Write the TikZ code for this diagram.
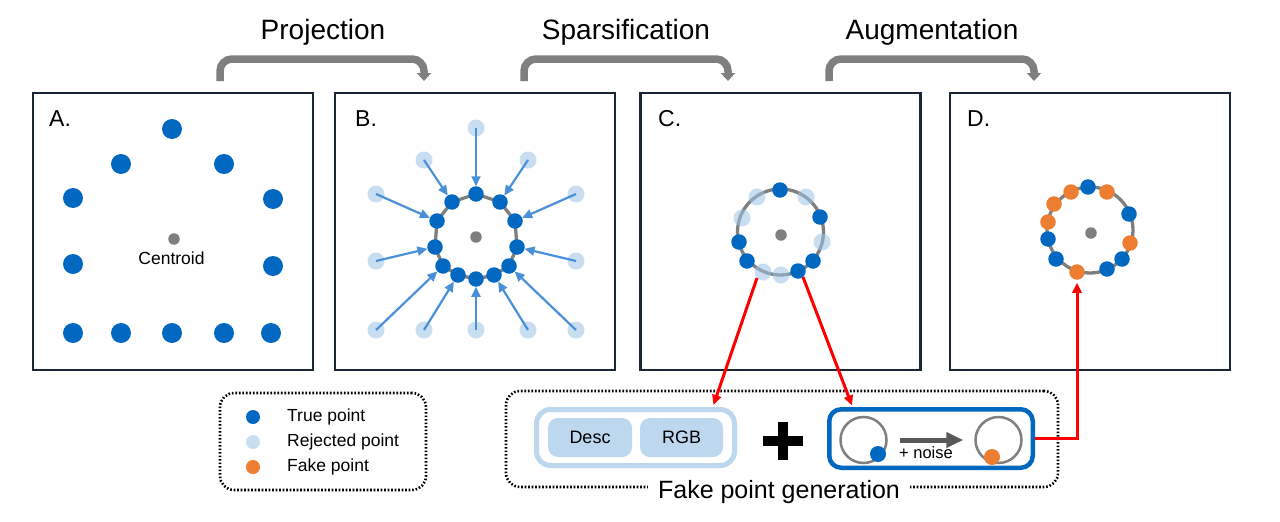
\documentclass[tikz,border=0pt]{standalone}
\usepackage{fontspec}
\setmainfont{Liberation Sans}
\usetikzlibrary{arrows.meta}
\definecolor{tblue}{HTML}{0068C0}
\definecolor{lblue}{HTML}{BDD7EE}
\definecolor{rejc}{HTML}{9DC3E6}
\definecolor{aorange}{HTML}{ED7D31}
\definecolor{ringgray}{HTML}{7F7F7F}
\definecolor{navy}{HTML}{1B2538}
\definecolor{arrblue}{HTML}{4A90D9}
\definecolor{darkarrow}{HTML}{595959}
\begin{document}
\begin{tikzpicture}[x=1pt,y=-1pt,
 panel/.style={draw=navy,line width=2.5pt,minimum width=280pt,minimum height=277pt,inner sep=0pt,outer sep=0pt},
 bigdot/.style={circle,fill=tblue,minimum size=20pt,inner sep=0pt,outer sep=0pt},
 tdot/.style={circle,fill=tblue,minimum size=15.5pt,inner sep=0pt,outer sep=0pt},
 fdot/.style={circle,fill=aorange,minimum size=15.5pt,inner sep=0pt,outer sep=0pt},
 rdot/.style={circle,fill=rejc,fill opacity=0.55,minimum size=17pt,inner sep=0pt,outer sep=0pt},
 cdot/.style={circle,fill=ringgray,minimum size=11.5pt,inner sep=0pt,outer sep=0pt},
 ringline/.style={draw=ringgray,line width=3.3pt},
 projarrow/.style={draw=arrblue,line width=2.2pt,-{Triangle[length=10pt,width=9pt]}},
 bracket/.style={draw=ringgray,line width=7.5pt,rounded corners=12pt,-{Triangle[length=8pt,width=14pt]}},
 head/.style={font=\fontsize{28}{32}\selectfont,anchor=base,inner sep=0pt},
 plab/.style={font=\fontsize{23}{26}\selectfont,anchor=base west,inner sep=0pt},
 small/.style={font=\fontsize{17.5}{20}\selectfont,inner sep=0pt},
 dotbox/.style={draw=black,line width=2.6pt,dash pattern=on 1.6pt off 1.9pt,rounded corners=14pt,inner sep=0pt},
 redarr/.style={draw=red,line width=3pt,-{Triangle[length=10pt,width=9pt]}},
 inbox/.style={fill=lblue,rounded corners=10pt,minimum width=84pt,minimum height=39pt,inner sep=0pt,font=\fontsize{18}{20}\selectfont}
]
\useasboundingbox[fill=white] (0,0) rectangle (1280,522);

% headings and brackets
\node[head] (h1) at (323,39) {Projection};
\node[head] (h2) at (626,39) {Sparsification};
\node[head] (h3) at (932,39) {Augmentation};
\coordinate (k1a) at (220,81); \coordinate (k1b) at (424,81);
\coordinate (k2a) at (524,81); \coordinate (k2b) at (728,81);
\coordinate (k3a) at (829,81); \coordinate (k3b) at (1034,81);
\draw[bracket] (k1a) -- (220,59) -- (424,59) -- (k1b);
\draw[bracket] (k2a) -- (524,59) -- (728,59) -- (k2b);
\draw[bracket] (k3a) -- (829,59) -- (1034,59) -- (k3b);

% panels
\node[panel] (pA) at (173,231.5) {};
\node[panel] (pB) at (475,231.5) {};
\node[panel] (pC) at (780.5,231.5) {};
\node[panel] (pD) at (1090,231.5) {};
\node[plab] (lA) at (49,126) {A.};
\node[plab] (lB) at (355,126) {B.};
\node[plab] (lC) at (658,126) {C.};
\node[plab] (lD) at (967,126) {D.};

% panel A
\node[bigdot] (a1) at (172,129) {};
\node[bigdot] (a2) at (121,164) {};
\node[bigdot] (a3) at (224,164) {};
\node[bigdot] (a4) at (73,198) {};
\node[bigdot] (a5) at (273,199) {};
\node[bigdot] (a6) at (73,264) {};
\node[bigdot] (a7) at (273,266) {};
\node[bigdot] (a8) at (73,333) {};
\node[bigdot] (a9) at (121,333) {};
\node[bigdot] (a10) at (172,333) {};
\node[bigdot] (a11) at (224,333) {};
\node[bigdot] (a12) at (271,333) {};
\node[cdot] (ac) at (174,239) {};
\node[small,anchor=base] (actext) at (171.5,264) {Centroid};

% panel B
\coordinate (b1) at (476,194);
\coordinate (b2) at (500,202);
\coordinate (b3) at (515,221);
\coordinate (b4) at (517,247);
\coordinate (b5) at (509,266);
\coordinate (b6) at (494,275);
\coordinate (b7) at (476,279);
\coordinate (b8) at (458,275);
\coordinate (b9) at (443,266);
\coordinate (b10) at (435,247);
\coordinate (b11) at (437,221);
\coordinate (b12) at (452,202);
\draw[ringline,line join=round] (b1) -- (b2) -- (b3) -- (b4) -- (b5) -- (b6) -- (b7) -- (b8) -- (b9) -- (b10) -- (b11) -- (b12) -- cycle;
\foreach \i in {1,...,12} { \node[tdot] (B\i) at (b\i) {}; }
\node[cdot] (bc) at (476,237) {};
\node[rdot] (r1) at (476,128) {};
\node[rdot] (r2) at (528,160) {};
\node[rdot] (r3) at (576,194) {};
\node[rdot] (r4) at (576,261) {};
\node[rdot] (r5) at (576,330) {};
\node[rdot] (r6) at (528,330) {};
\node[rdot] (r7) at (476,330) {};
\node[rdot] (r8) at (424,330) {};
\node[rdot] (r9) at (376,330) {};
\node[rdot] (r10) at (376,261) {};
\node[rdot] (r11) at (376,194) {};
\node[rdot] (r12) at (424,160) {};
\draw[projarrow] (r1.center) -- (B1);
\draw[projarrow] (r2.center) -- (B2);
\draw[projarrow] (r3.center) -- (B3);
\draw[projarrow] (r4.center) -- (B4);
\draw[projarrow] (r5.center) -- (B5);
\draw[projarrow] (r6.center) -- (B6);
\draw[projarrow] (r7.center) -- (B7);
\draw[projarrow] (r8.center) -- (B8);
\draw[projarrow] (r9.center) -- (B9);
\draw[projarrow] (r10.center) -- (B10);
\draw[projarrow] (r11.center) -- (B11);
\draw[projarrow] (r12.center) -- (B12);

% panel C
\node[circle,ringline,minimum size=86pt,inner sep=0pt] (cring) at (780.5,232) {};
\node[cdot] (cc) at (781,235) {};
\node[tdot] (c1) at (780,190) {};
\node[tdot] (c2) at (820,217) {};
\node[tdot] (c3) at (739,242) {};
\node[tdot] (c4) at (747,261) {};
\node[tdot] (c5) at (813,261) {};
\node[tdot] (c6) at (798,271) {};
\node[rdot] (cr1) at (757,197) {};
\node[rdot] (cr2) at (806,197) {};
\node[rdot] (cr3) at (742,218) {};
\node[rdot] (cr4) at (822,242) {};
\node[rdot] (cr5) at (763,272) {};
\node[rdot] (cr6) at (781,275) {};
\coordinate (rs1) at (757,278);
\coordinate (rs2) at (803,277);

% panel D
\node[circle,ringline,minimum size=86pt,inner sep=0pt] (dring) at (1090,230) {};
\node[cdot] (dc) at (1091,233) {};
\node[fdot] (d2) at (1071,192) {};
\node[fdot] (d3) at (1107,192) {};
\node[tdot] (d1) at (1088,187) {};
\node[fdot] (d4) at (1054,204) {};
\node[tdot] (d5) at (1129,214) {};
\node[fdot] (d6) at (1048,222) {};
\node[tdot] (d7) at (1048,239) {};
\node[fdot] (d8) at (1130,243) {};
\node[tdot] (d9) at (1056,259) {};
\node[tdot] (d10) at (1122,259) {};
\node[tdot] (d11) at (1107,269) {};
\node[fdot] (dF) at (1077,272) {};

% legend
\node[dotbox,minimum width=206pt,minimum height=97pt] (leg) at (323,441.5) {};
\node[circle,fill=tblue,minimum size=14pt,inner sep=0pt] (lg1) at (253,417) {};
\node[circle,fill=rejc,fill opacity=0.55,minimum size=14pt,inner sep=0pt] (lg2) at (253,442) {};
\node[circle,fill=aorange,minimum size=14pt,inner sep=0pt] (lg3) at (253,467) {};
\node[small,anchor=west] (lt1) at (287,417) {True point};
\node[small,anchor=west] (lt2) at (287,442) {Rejected point};
\node[small,anchor=west] (lt3) at (287,467) {Fake point};

% fake point generation
\node[dotbox,minimum width=552pt,minimum height=96pt] (fk) at (782,439) {};
\node[font=\fontsize{25}{28}\selectfont,fill=white,inner xsep=10pt,inner ysep=2pt,anchor=base] (fktext) at (779,498) {Fake point generation};
\node[draw=lblue,line width=5pt,fill=white,rounded corners=14pt,minimum width=198pt,minimum height=56pt,inner sep=0pt] (dbox) at (635.5,437.5) {};
\node[inbox] (desc) at (590,437.5) {Desc};
\node[inbox,minimum width=83pt] (rgb) at (681.5,437.5) {RGB};
\draw[line width=10pt] (763,441) -- (803,441);
\draw[line width=10pt] (783,422) -- (783,460);
\node[draw=tblue,line width=4.5pt,fill=white,rounded corners=12pt,minimum width=203.5pt,minimum height=58.5pt,inner sep=0pt] (nbox) at (931,438.5) {};
\node[circle,draw=ringgray,line width=2.5pt,minimum size=46pt,inner sep=0pt] (n1) at (863.5,440) {};
\node[circle,draw=ringgray,line width=2.5pt,minimum size=46pt,inner sep=0pt] (n2) at (998.5,440) {};
\node[circle,fill=tblue,minimum size=16pt,inner sep=0pt] (n1d) at (878,454) {};
\node[circle,fill=aorange,minimum size=16pt,inner sep=0pt] (n2d) at (992,457) {};
\draw[draw=darkarrow,line width=5pt,shorten <=12pt,shorten >=11pt,-{Triangle[length=17pt,width=15pt]}] (n1) -- (n2);
\node[font=\fontsize{16.5}{19}\selectfont,inner sep=0pt] (noise) at (926,453) {+ noise};

% red connectors
\draw[redarr] (rs1) -- ([xshift=-23.5pt,yshift=2pt]dbox.north east);
\draw[redarr] (rs2) -- ([xshift=25pt,yshift=1.5pt]nbox.north west);
\draw[redarr,shorten >=3pt] (nbox.east) -| (dF.south);
\end{tikzpicture}
\end{document}
